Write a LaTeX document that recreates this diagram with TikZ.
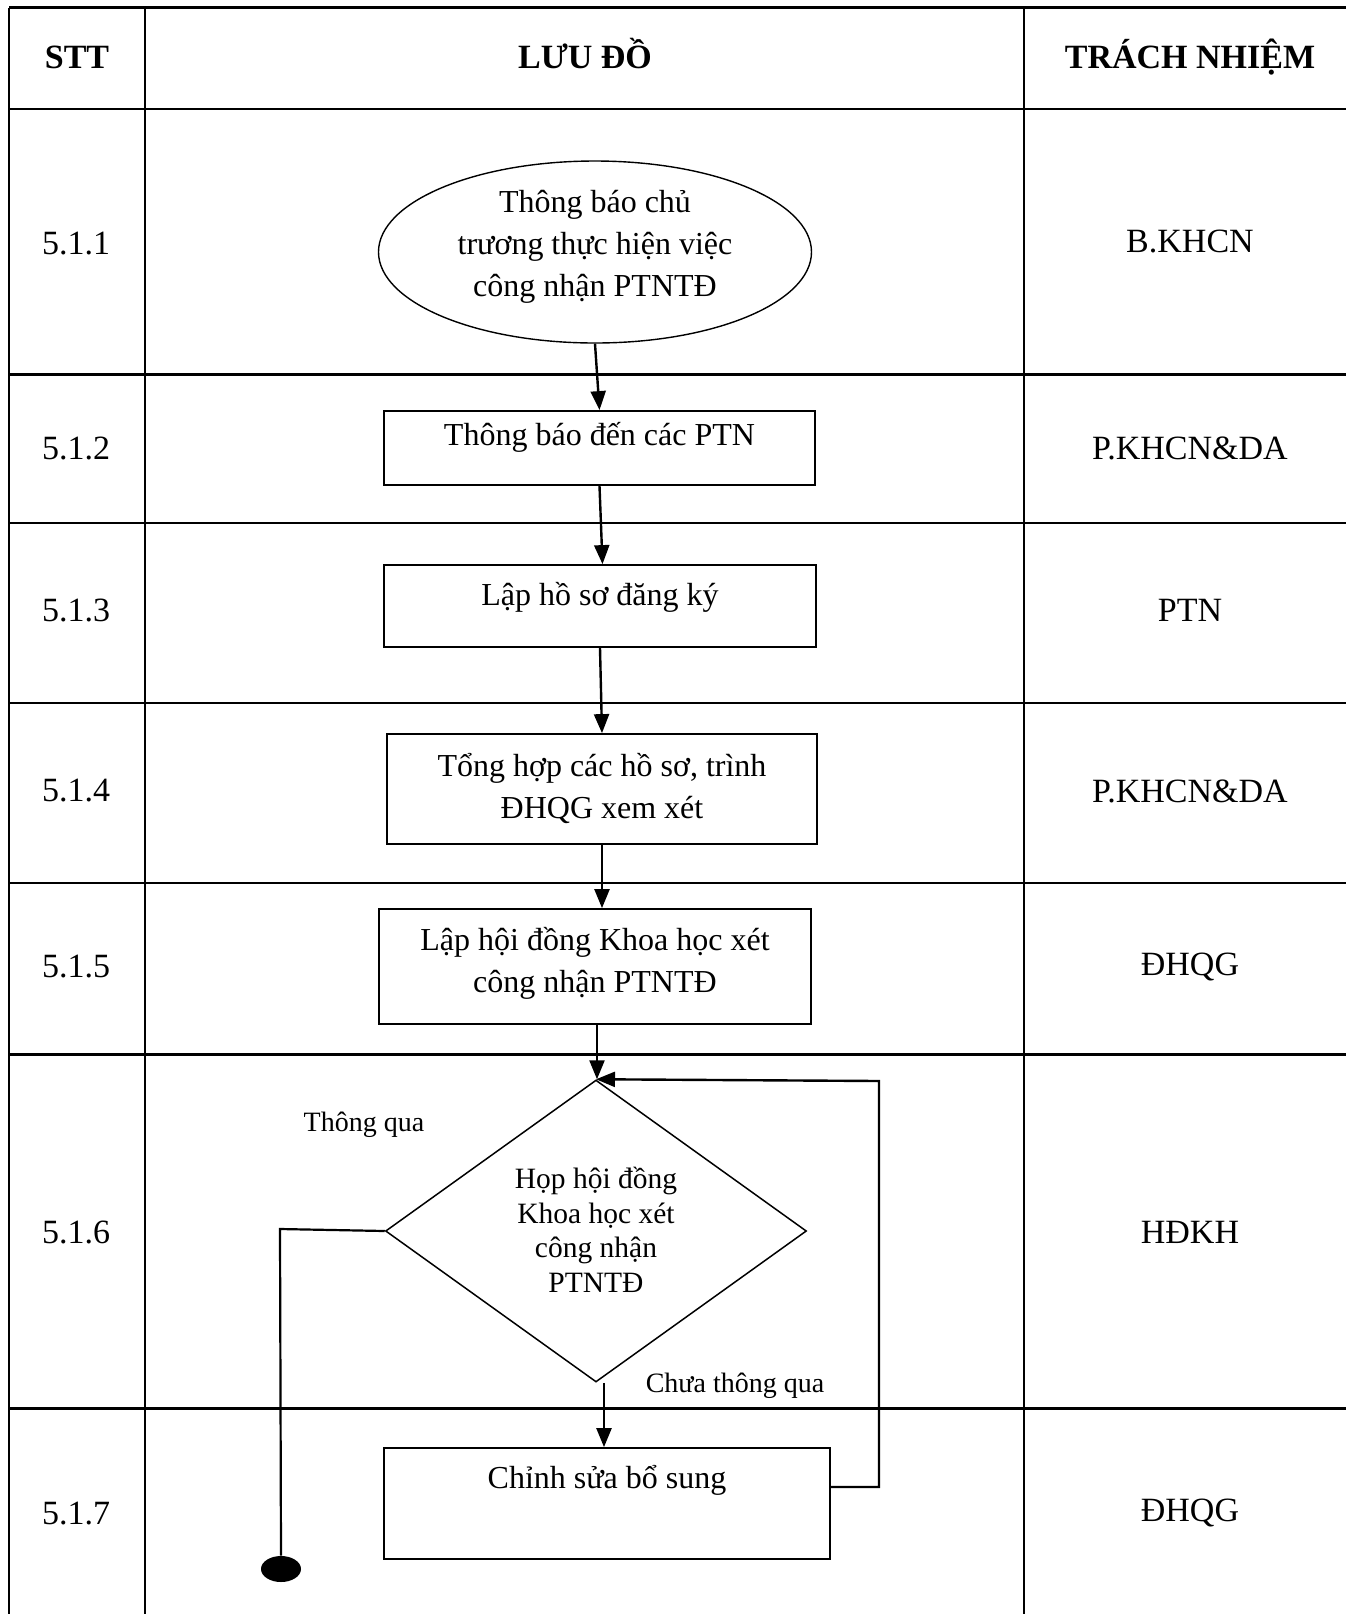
\documentclass[tikz,border=0pt]{standalone}
\usepackage{fontspec}
\setmainfont{Liberation Serif}
\usetikzlibrary{arrows.meta,shapes.geometric,calc}
\begin{document}
\begin{tikzpicture}[x=0.5pt,y=-0.5pt,
  grid/.style={line width=1.3pt},
  hdr/.style={font=\fontsize{17}{21}\selectfont\bfseries, inner sep=0pt, anchor=base},
  txt/.style={font=\fontsize{17}{21}\selectfont, inner sep=0pt, align=center},
  flowtxt/.style={font=\fontsize{16}{21}\selectfont, inner sep=0pt, align=center},
  smalltxt/.style={font=\fontsize{14.75}{17.3}\selectfont, inner sep=0pt, align=center},
  lbl/.style={font=\fontsize{14}{17}\selectfont, inner sep=0pt},
  boxshape/.style={draw, line width=0.9pt, rectangle, inner sep=0pt},
  flow/.style={line width=1.2pt, -{Triangle[length=9.5pt,width=7.5pt]}},
  plain/.style={line width=1.1pt}
]
\useasboundingbox (0,0) rectangle (1346,1614);
% table grid
\draw[grid] (9,7.5) -- (9,1614);
\draw[grid] (145,7.5) -- (145,1614);
\draw[grid] (1024,7.5) -- (1024,1614);
\foreach \yy in {7.5,109,374.6,522.8,702.8,883,1054.7,1408.7}
  \draw[grid] (9,\yy) -- (1346,\yy);
% header
\node[hdr] (h1) at (77,68) {STT};
\node[hdr] (h2) at (585,68) {LƯU ĐỒ};
\node[hdr] (h3) at (1190,68) {TRÁCH NHIỆM};
% STT column
\node[txt] (s1) at (76,244) {5.1.1};
\node[txt] (s2) at (76,448) {5.1.2};
\node[txt] (s3) at (76,610) {5.1.3};
\node[txt] (s4) at (76,791) {5.1.4};
\node[txt] (s5) at (76,967) {5.1.5};
\node[txt] (s6) at (76,1232) {5.1.6};
\node[txt] (s7) at (76,1513) {5.1.7};
% responsibility column
\node[txt] (r1) at (1190,241) {B.KHCN};
\node[txt] (r2) at (1190,448) {P.KHCN\&DA};
\node[txt] (r3) at (1190,610) {PTN};
\node[txt] (r4) at (1190,791) {P.KHCN\&DA};
\node[txt] (r5) at (1190,967) {ĐHQG};
\node[txt] (r6) at (1190,1232) {HĐKH};
\node[txt] (r7) at (1190,1513) {ĐHQG};
% flow shapes
\node[draw, ellipse, line width=0.7pt, minimum width=216.5pt, minimum height=91pt, inner sep=0pt] (ell) at (595,252) {};
\node[flowtxt] (ellt) at (595,247) {Thông báo chủ\\trương thực hiện việc\\công nhận PTNTĐ};

\node[boxshape, minimum width=215.5pt, minimum height=37pt] (b2) at (599.5,448) {};
\node[flowtxt] (b2t) at (599.5,437) {Thông báo đến các PTN};

\node[boxshape, minimum width=216pt, minimum height=41pt] (b3) at (600,606) {};
\node[flowtxt] (b3t) at (600,597) {Lập hồ sơ đăng ký};

\node[boxshape, minimum width=215pt, minimum height=55pt] (b4) at (602,789) {};
\node[flowtxt] (b4t) at (602,788) {Tổng hợp các hồ sơ, trình\\ĐHQG xem xét};

\node[boxshape, minimum width=216pt, minimum height=57.5pt] (b5) at (595,966.5) {};
\node[flowtxt] (b5t) at (595,963) {Lập hội đồng Khoa học xét\\công nhận PTNTĐ};

\node[draw, diamond, line width=0.75pt, minimum width=210.5pt, minimum height=151pt, inner sep=0pt, aspect=1.394] (dia) at (596,1231) {};
\node[smalltxt] (diat) at (596,1230) {Họp hội đồng\\Khoa học xét\\công nhận\\PTNTĐ};

\node[boxshape, minimum width=223pt, minimum height=55.5pt] (b7) at (607,1503.5) {};
\node[flowtxt] (b7t) at (607,1480) {Chỉnh sửa bổ sung};

\node[lbl] (yes) at (364,1125) {Thông qua};
\node[lbl] (no) at (735,1386) {Chưa thông qua};

\node[fill=black, ellipse, minimum width=20pt, minimum height=13pt, inner sep=0pt] (endp) at (281,1569) {};

\coordinate (loopA) at (879,1487);
\coordinate (loopB) at (879,1081);
\coordinate (leftA) at (280,1229);

% connectors
\draw[flow] (ell.south) -- (b2.north);
\draw[flow] (b2.south) -- ([xshift=1.5pt]b2.south |- b3.north);
\draw[flow] (b3.south) -- ([xshift=1pt]b3.south |- b4.north);
\draw[flow] (b4.south) -- (b4.south |- b5.north);
\draw[flow] ([xshift=1pt]b5.south) -- ([xshift=1pt]b5.south |- dia.north);
\draw[flow] ([xshift=4pt]dia.south) -- ([xshift=4pt]dia.south |- b7.north);
\draw[flow] (b7.east |- loopA) -- (loopA) -- (loopB) -- (dia.north);
\draw[plain] (dia.west) -- (leftA) -- (endp.north);
\end{tikzpicture}
\end{document}
